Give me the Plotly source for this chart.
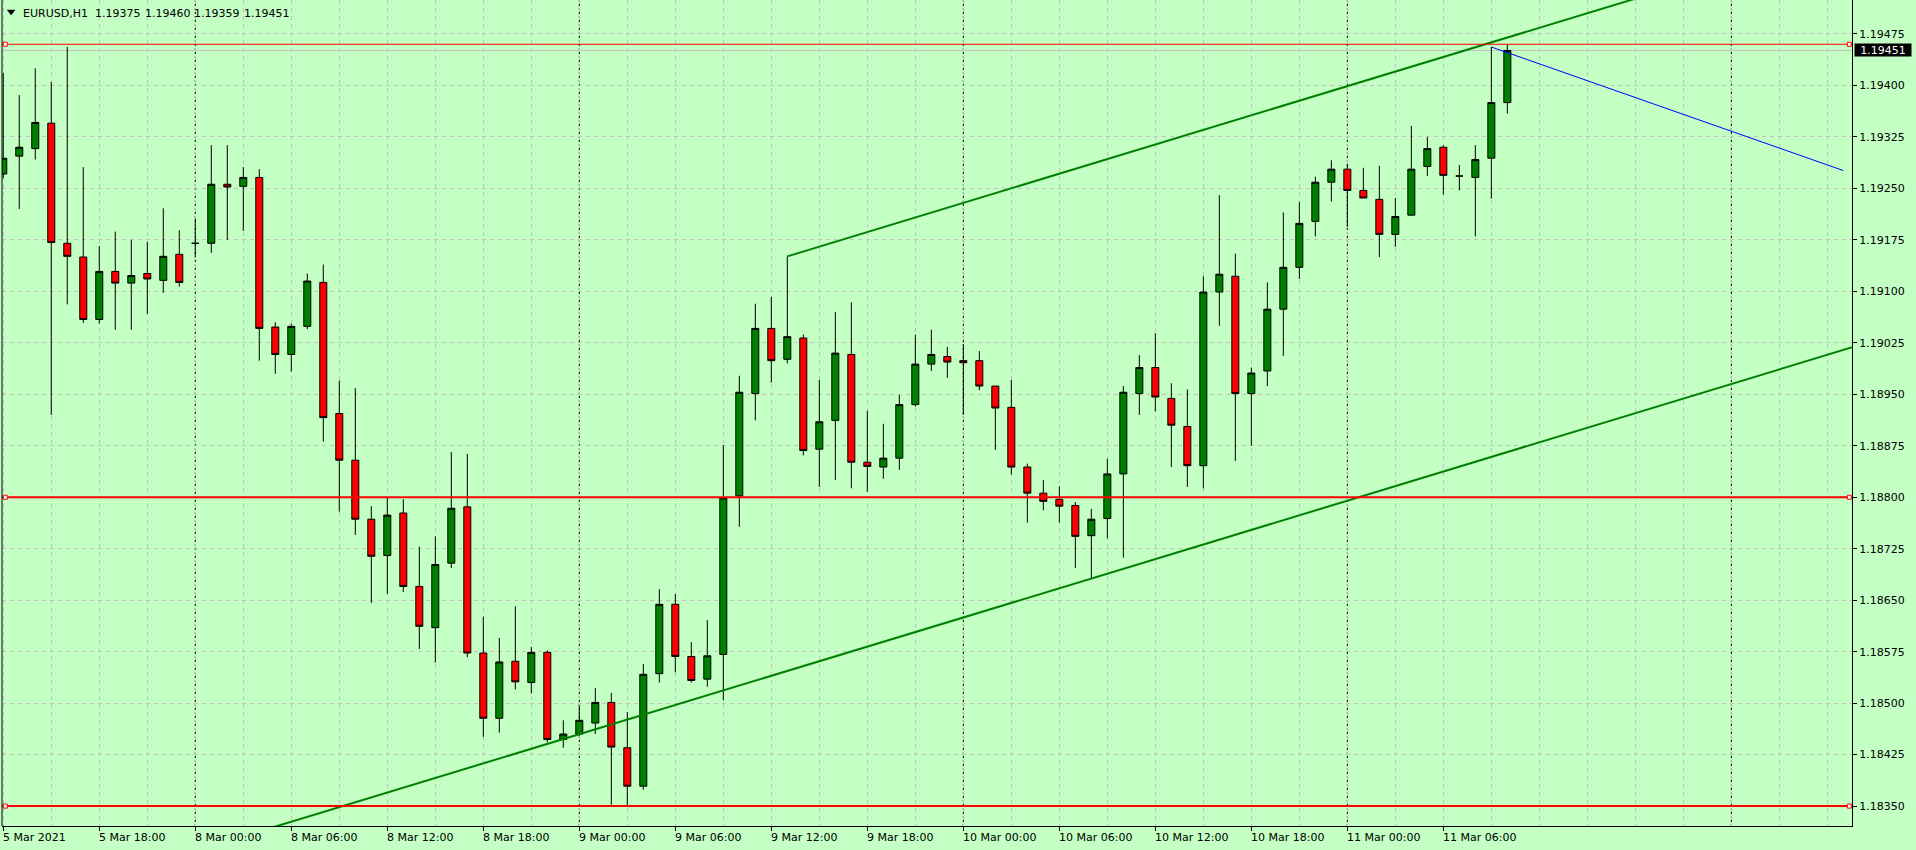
import plotly.graph_objects as go

# ---------------- data ----------------
header_words = ["EURUSD,H1", "1.19375", "1.19460", "1.19359", "1.19451"]

bar_index = list(range(95))
opens = [1.19271, 1.19297, 1.19308, 1.19345, 1.19170, 1.19150, 1.19059, 1.19129, 1.19112, 1.19126,
         1.19116, 1.19154, 1.19170, 1.19170, 1.19256, 1.19253, 1.19266, 1.19048, 1.19008, 1.19049,
         1.19113, 1.18922, 1.18854, 1.18768, 1.18715, 1.18777, 1.18670, 1.18610, 1.18704, 1.18786,
         1.18573, 1.18478, 1.18561, 1.18530, 1.18574, 1.18447, 1.18455, 1.18471, 1.18501, 1.18435,
         1.18379, 1.18543, 1.18644, 1.18568, 1.18535, 1.18571, 1.18802, 1.18951, 1.19046, 1.19001,
         1.19032, 1.18870, 1.18912, 1.19008, 1.18851, 1.18844, 1.18857, 1.18935, 1.18994, 1.19005,
         1.18999, 1.18999, 1.18962, 1.18931, 1.18844, 1.18806, 1.18797, 1.18788, 1.18744, 1.18769,
         1.18834, 1.18951, 1.18989, 1.18944, 1.18903, 1.18846, 1.19099, 1.19122, 1.18951, 1.18984,
         1.19074, 1.19135, 1.19202, 1.19259, 1.19278, 1.19247, 1.19234, 1.19183, 1.19211, 1.19282,
         1.19310, 1.19268, 1.19266, 1.19294, 1.19375]
highs = [1.19418, 1.19386, 1.19425, 1.19405, 1.19456, 1.19281, 1.19166, 1.19187, 1.19175, 1.19172,
         1.19221, 1.19189, 1.19206, 1.19313, 1.19313, 1.19281, 1.19278, 1.19055, 1.19053, 1.19126,
         1.19139, 1.18970, 1.18959, 1.18787, 1.18801, 1.18797, 1.18728, 1.18743, 1.18866, 1.18863,
         1.18626, 1.18595, 1.18641, 1.18582, 1.18577, 1.18475, 1.18497, 1.18522, 1.18515, 1.18487,
         1.18557, 1.18666, 1.18659, 1.18589, 1.18621, 1.18876, 1.18977, 1.19082, 1.19092, 1.19151,
         1.19037, 1.18971, 1.19070, 1.19084, 1.18926, 1.18907, 1.18949, 1.19037, 1.19044, 1.19019,
         1.19023, 1.19013, 1.18962, 1.18971, 1.18849, 1.18825, 1.18816, 1.18793, 1.18783, 1.18856,
         1.18962, 1.19007, 1.19039, 1.18966, 1.18957, 1.19122, 1.19240, 1.19155, 1.18989, 1.19113,
         1.19215, 1.19230, 1.19267, 1.19291, 1.19285, 1.19280, 1.19283, 1.19236, 1.19341, 1.19325,
         1.19313, 1.19284, 1.19313, 1.19456, 1.19460]
lows = [1.19265, 1.19220, 1.19292, 1.18920, 1.19081, 1.19054, 1.19053, 1.19044, 1.19044, 1.19067,
        1.19098, 1.19107, 1.19150, 1.19156, 1.19175, 1.19188, 1.18999, 1.18980, 1.18983, 1.19045,
        1.18881, 1.18779, 1.18745, 1.18646, 1.18659, 1.18662, 1.18579, 1.18559, 1.18697, 1.18567,
        1.18451, 1.18457, 1.18520, 1.18514, 1.18443, 1.18435, 1.18452, 1.18455, 1.18352, 1.18350,
        1.18374, 1.18530, 1.18545, 1.18530, 1.18524, 1.18504, 1.18757, 1.18912, 1.18967, 1.18995,
        1.18861, 1.18815, 1.18825, 1.18813, 1.18808, 1.18827, 1.18840, 1.18932, 1.18984, 1.18974,
        1.18920, 1.18956, 1.18869, 1.18833, 1.18763, 1.18781, 1.18763, 1.18697, 1.18682, 1.18740,
        1.18712, 1.18920, 1.18925, 1.18844, 1.18815, 1.18813, 1.19050, 1.18853, 1.18875, 1.18962,
        1.19006, 1.19118, 1.19180, 1.19231, 1.19194, 1.19236, 1.19150, 1.19165, 1.19211, 1.19268,
        1.19241, 1.19247, 1.19180, 1.19235, 1.19359]
closes = [1.19294, 1.19310, 1.19346, 1.19171, 1.19151, 1.19059, 1.19129, 1.19112, 1.19123, 1.19118,
          1.19151, 1.19113, 1.19170, 1.19256, 1.19252, 1.19266, 1.19046, 1.19008, 1.19049, 1.19115,
          1.18916, 1.18854, 1.18768, 1.18714, 1.18774, 1.18670, 1.18612, 1.18702, 1.18784, 1.18573,
          1.18478, 1.18560, 1.18531, 1.18574, 1.18447, 1.18455, 1.18475, 1.18501, 1.18436, 1.18379,
          1.18542, 1.18644, 1.18568, 1.18533, 1.18569, 1.18799, 1.18953, 1.19046, 1.18999, 1.19034,
          1.18868, 1.18910, 1.19010, 1.18851, 1.18845, 1.18857, 1.18935, 1.18994, 1.19008, 1.18997,
          1.18996, 1.18962, 1.18930, 1.18844, 1.18806, 1.18794, 1.18787, 1.18743, 1.18768, 1.18834,
          1.18953, 1.18989, 1.18946, 1.18905, 1.18846, 1.19099, 1.19125, 1.18951, 1.18981, 1.19074,
          1.19135, 1.19199, 1.19259, 1.19278, 1.19247, 1.19236, 1.19183, 1.19209, 1.19278, 1.19308,
          1.19269, 1.19268, 1.19292, 1.19375, 1.19451]

tick_index = [0, 6, 12, 18, 24, 30, 36, 42, 48, 54, 60, 66, 72, 78, 84, 90]
tick_labels = ["5 Mar 2021", "5 Mar 18:00", "8 Mar 00:00", "8 Mar 06:00", "8 Mar 12:00",
               "8 Mar 18:00", "9 Mar 00:00", "9 Mar 06:00", "9 Mar 12:00", "9 Mar 18:00",
               "10 Mar 00:00", "10 Mar 06:00", "10 Mar 12:00", "10 Mar 18:00",
               "11 Mar 00:00", "11 Mar 06:00"]
day_separator_index = [12, 36, 60, 84, 108]

price_ticks = [1.18350, 1.18425, 1.18500, 1.18575, 1.18650, 1.18725, 1.18800, 1.18875,
               1.18950, 1.19025, 1.19100, 1.19175, 1.19250, 1.19325, 1.19400, 1.19475]

level_prices = [1.19460, 1.18800, 1.18350]
level_widths = [1, 2, 2]
bid_price = 1.19451

lower_trend_index = [27, 108]
lower_trend_price = [1.18391, 1.18965]
upper_trend_index = [49, 108]
upper_trend_price = [1.19151, 1.19569]
blue_line_index = [93, 115]
blue_line_price = [1.19456, 1.19276]

x_range = [-0.08, 115.54]
y_range = [1.18321, 1.195245]

# ---------------- style ----------------
BG = "#C4FFC4"
GRID = "#C0C0C0"
FONT = "DejaVu Sans"
header_x_px = [18.7, 91.3, 141.0, 190.3, 240.3]

fig = go.Figure()

fig.add_trace(go.Candlestick(
    x=bar_index, open=opens, high=highs, low=lows, close=closes,
    increasing=dict(line=dict(color="black", width=1), fillcolor="#008000"),
    decreasing=dict(line=dict(color="black", width=1), fillcolor="#FF0000"),
    whiskerwidth=0, hoverinfo="skip", showlegend=False,
))


def extend(idx, prc, x_from, x_to):
    slope = (prc[1] - prc[0]) / (idx[1] - idx[0])
    return [x_from, x_to], [prc[0] + slope * (x_from - idx[0]), prc[0] + slope * (x_to - idx[0])]


lx, ly = extend(lower_trend_index, lower_trend_price, x_range[0] - 2, x_range[1] + 2)
fig.add_trace(go.Scatter(x=lx, y=ly, mode="lines", line=dict(color="#008000", width=2),
                         hoverinfo="skip", showlegend=False))
ux, uy = extend(upper_trend_index, upper_trend_price, upper_trend_index[0], x_range[1] + 2)
fig.add_trace(go.Scatter(x=ux, y=uy, mode="lines", line=dict(color="#008000", width=2),
                         hoverinfo="skip", showlegend=False))
fig.add_trace(go.Scatter(x=blue_line_index, y=blue_line_price, mode="lines",
                         line=dict(color="#0000FF", width=1), hoverinfo="skip", showlegend=False))

shapes = []
# period separators
for d in day_separator_index:
    shapes.append(dict(type="line", xref="x", yref="paper", x0=d, x1=d, y0=0, y1=1,
                       line=dict(color="black", width=1, dash="2px,2px"), layer="between"))
# bid line
shapes.append(dict(type="line", xref="paper", yref="y", x0=0, x1=1, y0=bid_price, y1=bid_price,
                   line=dict(color="#C0C0C0", width=1), layer="between"))
# horizontal levels
for p, w in zip(level_prices, level_widths):
    shapes.append(dict(type="line", xref="paper", yref="y", x0=0, x1=1, y0=p, y1=p,
                       line=dict(color="#FF0000", width=w), layer="above"))
    for xa, a, b in [(0, 1.3, 5.3), (1, -4.7, -0.7)]:
        shapes.append(dict(type="rect", xref="paper", yref="y", xsizemode="pixel",
                           ysizemode="pixel", xanchor=xa, yanchor=p, x0=a, x1=b, y0=-2, y1=2,
                           line=dict(color="#FF0000", width=1), fillcolor="white",
                           layer="above"))
# left border
shapes.append(dict(type="line", xref="paper", yref="paper", x0=0, x1=0, y0=0, y1=1,
                   line=dict(color="black", width=1), layer="above"))
# header triangle
shapes.append(dict(type="path", xref="paper", yref="paper", xsizemode="pixel",
                   ysizemode="pixel", xanchor=0, yanchor=1,
                   path="M 5.3,-10 L 13,-10 L 9.15,-15 Z",
                   fillcolor="black", line=dict(color="black", width=0.5)))

annotations = []
for i, t in zip(tick_index, tick_labels):
    annotations.append(dict(x=i, y=0, xref="x", yref="paper", text=t, showarrow=False,
                            xanchor="left", yanchor="top", xshift=-2, yshift=-3,
                            font=dict(family=FONT, size=11, color="black")))
for w, xs in zip(header_words, header_x_px):
    annotations.append(dict(x=0, y=1, xref="paper", yref="paper", text=w,
                            showarrow=False, xanchor="left", yanchor="top", xshift=xs,
                            yshift=-5, font=dict(family=FONT, size=11, color="black")))
annotations.append(dict(x=1, y=bid_price, xref="paper", yref="y", text=f"{bid_price:.5f}",
                        showarrow=False, xanchor="left", yanchor="middle", xshift=2,
                        bgcolor="black", width=56, height=12, borderpad=0,
                        font=dict(family=FONT, size=11, color="white")))

fig.update_layout(
    width=1916, height=850,
    margin=dict(l=2, r=64, t=0, b=24, autoexpand=False),
    paper_bgcolor=BG, plot_bgcolor=BG,
    boxgap=0.375,
    showlegend=False,
    shapes=shapes, annotations=annotations,
    xaxis=dict(range=x_range, rangeslider=dict(visible=False), tickmode="array",
               tickvals=tick_index, showticklabels=False, ticks="outside", ticklen=4,
               tickcolor="black", showgrid=True, gridcolor=GRID, griddash="4px,4px",
               gridwidth=1, zeroline=False, showline=True, linecolor="black", linewidth=1,
               fixedrange=True,
               minor=dict(tickmode="linear", tick0=0, dtick=3, showgrid=True,
                          gridcolor=GRID, griddash="4px,4px", gridwidth=1, ticks="")),
    yaxis=dict(range=y_range, side="right", tickmode="array", tickvals=price_ticks,
               ticktext=[f"{v:.5f}" for v in price_ticks], ticks="outside", ticklen=4,
               tickcolor="black", tickfont=dict(family=FONT, size=11, color="black"),
               showgrid=True, gridcolor=GRID, griddash="4px,4px", gridwidth=1,
               zeroline=False, showline=True, linecolor="black", linewidth=1,
               fixedrange=True),
    font=dict(family=FONT, size=11, color="black"),
)

fig.write_html("out.html", config={"displayModeBar": False},
               post_script="document.body.style.margin='0';document.body.style.overflow='hidden';")
